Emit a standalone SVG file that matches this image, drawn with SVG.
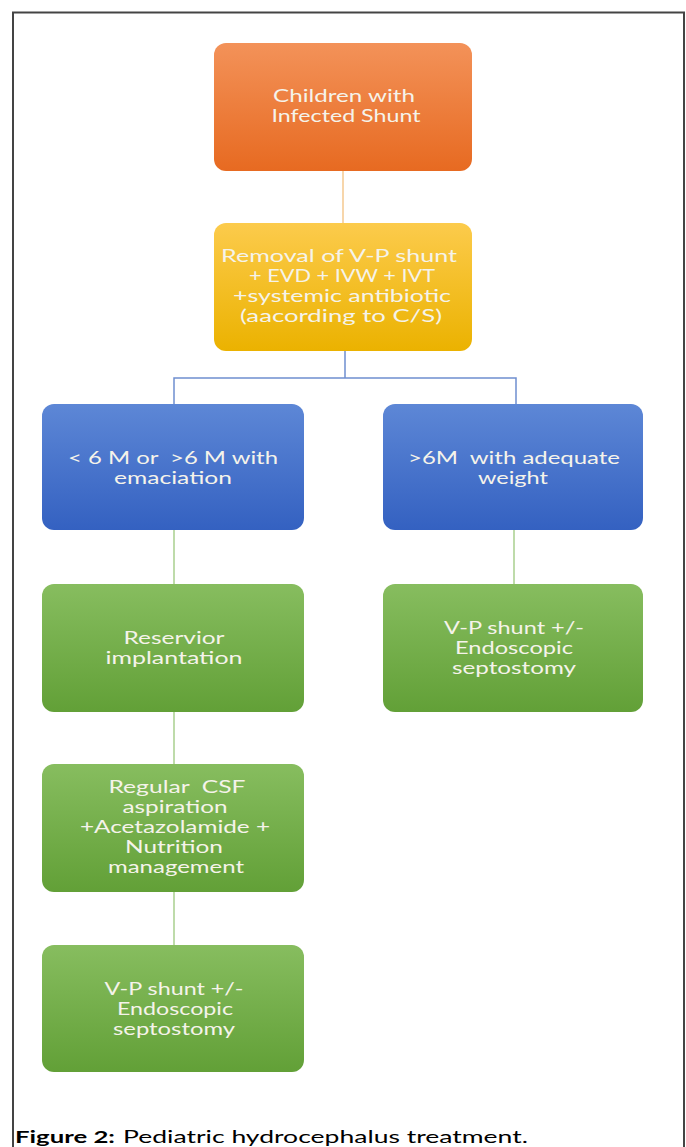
<svg xmlns="http://www.w3.org/2000/svg" width="686" height="1147" viewBox="0 0 686 1147">
<style>
  .t { font-family: Lato, "Liberation Sans", sans-serif; font-size: 16.5px; fill: #f5f3ea; text-anchor: middle; }
  .cap { font-family: Lato, "Liberation Sans", sans-serif; font-size: 17.5px; fill: #000; }
  .box { stroke: none; }
  .c-or { stroke: #f4c98f; stroke-width: 1.5; fill: none; }
  .c-bl { stroke: #6f8fd0; stroke-width: 1.5; fill: none; }
  .c-gr { stroke: #a9cf8e; stroke-width: 1.5; fill: none; }
</style>
<defs>
  <linearGradient id="gOr" x1="0" y1="0" x2="0" y2="1">
    <stop offset="0" stop-color="#f39259"/>
    <stop offset="1" stop-color="#e76a21"/>
  </linearGradient>
  <linearGradient id="gYe" x1="0" y1="0" x2="0" y2="1">
    <stop offset="0" stop-color="#fccb4c"/>
    <stop offset="1" stop-color="#ebb200"/>
  </linearGradient>
  <linearGradient id="gBl" x1="0" y1="0" x2="0" y2="1">
    <stop offset="0" stop-color="#5d87d6"/>
    <stop offset="1" stop-color="#3461c1"/>
  </linearGradient>
  <linearGradient id="gGr" x1="0" y1="0" x2="0" y2="1">
    <stop offset="0" stop-color="#87bd5f"/>
    <stop offset="1" stop-color="#62a037"/>
  </linearGradient>
</defs>
<rect width="686" height="1147" fill="#fff"/>
<path d="M13,1147 V12.5 H684 V1147" fill="none" stroke="#444" stroke-width="2"/>

<g id="connectors">
  <path class="c-or" d="M343,171 V223"/>
  <path class="c-bl" d="M345,351 V378 M174,378 H516 M174,377.3 V404 M516,377.3 V404"/>
  <path class="c-gr" d="M174,530 V584 M174,712 V764 M174,892 V945 M514,530 V584"/>
</g>

<g id="n-infected">
  <rect class="box" x="214" y="43" width="258" height="128" rx="12" fill="url(#gOr)"/>
  <text class="t" x="344" y="102" textLength="142" lengthAdjust="spacingAndGlyphs">Children with</text>
  <text class="t" x="346" y="122" textLength="149" lengthAdjust="spacingAndGlyphs">Infected Shunt</text>
</g>

<g id="n-removal">
  <rect class="box" x="214" y="223" width="258" height="128" rx="12" fill="url(#gYe)"/>
  <text class="t" x="339" y="262" textLength="236" lengthAdjust="spacingAndGlyphs">Removal of V-P shunt</text>
  <text class="t" x="342" y="282" textLength="186" lengthAdjust="spacingAndGlyphs">+ EVD + IVW + IVT</text>
  <text class="t" x="342" y="302" textLength="218" lengthAdjust="spacingAndGlyphs">+systemic antibiotic</text>
  <text class="t" x="341" y="322" textLength="202" lengthAdjust="spacingAndGlyphs">(aacording to C/S)</text>
</g>

<g id="n-under6">
  <rect class="box" x="42" y="404" width="262" height="126" rx="12" fill="url(#gBl)"/>
  <text class="t" x="173" y="464" xml:space="preserve" textLength="210" lengthAdjust="spacingAndGlyphs">&lt; 6 M or  &gt;6 M with</text>
  <text class="t" x="173" y="484" textLength="118" lengthAdjust="spacingAndGlyphs">emaciation</text>
</g>

<g id="n-over6">
  <rect class="box" x="383" y="404" width="260" height="126" rx="12" fill="url(#gBl)"/>
  <text class="t" x="514" y="464" xml:space="preserve" textLength="212" lengthAdjust="spacingAndGlyphs">&gt;6M  with adequate</text>
  <text class="t" x="513" y="484" textLength="70" lengthAdjust="spacingAndGlyphs">weight</text>
</g>

<g id="n-reservoir">
  <rect class="box" x="42" y="584" width="262" height="128" rx="12" fill="url(#gGr)"/>
  <text class="t" x="174" y="644" textLength="101" lengthAdjust="spacingAndGlyphs">Reservior</text>
  <text class="t" x="174" y="664" textLength="137" lengthAdjust="spacingAndGlyphs">implantation</text>
</g>

<g id="n-vp-right">
  <rect class="box" x="383" y="584" width="260" height="128" rx="12" fill="url(#gGr)"/>
  <text class="t" x="514" y="634" textLength="140" lengthAdjust="spacingAndGlyphs">V-P shunt +/-</text>
  <text class="t" x="514" y="654" textLength="118" lengthAdjust="spacingAndGlyphs">Endoscopic</text>
  <text class="t" x="514" y="674" textLength="124" lengthAdjust="spacingAndGlyphs">septostomy</text>
</g>

<g id="n-csf">
  <rect class="box" x="42" y="764" width="262" height="128" rx="12" fill="url(#gGr)"/>
  <text class="t" x="177" y="793" xml:space="preserve" textLength="137" lengthAdjust="spacingAndGlyphs">Regular  CSF</text>
  <text class="t" x="175" y="813" textLength="105" lengthAdjust="spacingAndGlyphs">aspiration</text>
  <text class="t" x="175" y="833" textLength="190" lengthAdjust="spacingAndGlyphs">+Acetazolamide +</text>
  <text class="t" x="174" y="853" textLength="98" lengthAdjust="spacingAndGlyphs">Nutrition</text>
  <text class="t" x="176" y="873" textLength="136" lengthAdjust="spacingAndGlyphs">management</text>
</g>

<g id="n-vp-left">
  <rect class="box" x="42" y="945" width="262" height="127" rx="12" fill="url(#gGr)"/>
  <text class="t" x="174" y="995" textLength="139" lengthAdjust="spacingAndGlyphs">V-P shunt +/-</text>
  <text class="t" x="175" y="1015" textLength="116" lengthAdjust="spacingAndGlyphs">Endoscopic</text>
  <text class="t" x="174" y="1035" textLength="122" lengthAdjust="spacingAndGlyphs">septostomy</text>
</g>

<g id="caption">
  <text class="cap" x="15" y="1143" font-weight="bold" textLength="100" lengthAdjust="spacingAndGlyphs">Figure 2:</text>
  <text class="cap" x="123" y="1143" textLength="405" lengthAdjust="spacingAndGlyphs">Pediatric hydrocephalus treatment.</text>
</g>
</svg>
